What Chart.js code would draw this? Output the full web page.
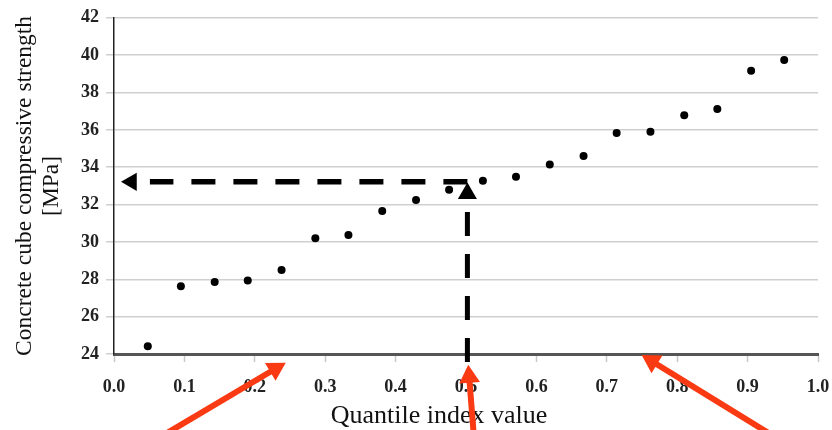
<!DOCTYPE html>
<html>
<head>
<meta charset="utf-8">
<script src="https://cdn.jsdelivr.net/npm/chart.js@4"></script>
<style>
    html, body { margin: 0; padding: 0; background: #fff; }
    #wrap { width: 832px; height: 430px; }
</style>
</head>
<body>
<div id="wrap"><canvas id="qqChart" width="832" height="430"></canvas></div>
<script>
// quantile index (x) and sorted cube strength (y)
const quantiles = [0.048, 0.095, 0.143, 0.190, 0.238, 0.286, 0.333, 0.381, 0.429, 0.476,
                   0.524, 0.571, 0.619, 0.667, 0.714, 0.762, 0.810, 0.857, 0.905, 0.952];
const strengths = [24.42, 27.63, 27.86, 27.93, 28.50, 30.20, 30.37, 31.65, 32.25, 32.80,
                   33.28, 33.49, 34.14, 34.60, 35.83, 35.90, 36.78, 37.12, 39.17, 39.74];

// median read-off (dashed guide lines)
const medianQ = 0.502;
const medianStrength = 33.22;
const guideLeftQ = 0.051;
const guideBottomS = 23.575;
const guideTopS = 32.28;
const leftHeadQ = 0.0249;
const upHeadS = 32.59;

// red pointer arrows below the axis (tail -> centre of head)
const arrowTailQ = [0.0602, 0.5115, 0.9443];
const arrowTailS = [19.43, 19.43, 19.43];
const arrowHeadQ = [0.2293, 0.5045, 0.7640];
const arrowHeadS = [23.21, 22.78, 23.61];

const xTicks = { min: 0, max: 1, step: 0.1 };
const yTicks = { min: 24, max: 42, step: 2 };

const SERIF = "'Liberation Serif', 'Times New Roman', serif";
const RED = '#fa3a12';

// x-axis title drawn by hand so it can sit left of centre like the original
const xTitlePlugin = {
    id: 'xTitle',
    beforeDatasetsDraw(chart) {
        const ctx = chart.ctx;
        ctx.save();
        ctx.font = `26px ${SERIF}`;
        ctx.fillStyle = '#111';
        ctx.textAlign = 'center';
        ctx.textBaseline = 'alphabetic';
        ctx.fillText('Quantile index value', 439, 423);
        ctx.restore();
    }
};

// point elements outside the chart area are skipped by Chart.js,
// so the red heads are drawn here from the same scales
const arrowHeadPlugin = {
    id: 'arrowHeads',
    afterDatasetsDraw(chart) {
        const { ctx, scales: { x, y } } = chart;
        const r = 12;
        ctx.save();
        ctx.fillStyle = RED;
        arrowHeadQ.forEach((q, i) => {
            const cx = x.getPixelForValue(q), cy = y.getPixelForValue(arrowHeadS[i]);
            const tx = x.getPixelForValue(arrowTailQ[i]), ty = y.getPixelForValue(arrowTailS[i]);
            const a = Math.atan2(cy - ty, cx - tx);
            ctx.beginPath();
            for (let k = 0; k < 3; k++) {
                const ang = a + k * 2 * Math.PI / 3;
                const px = cx + Math.cos(ang) * r, py = cy + Math.sin(ang) * r;
                k === 0 ? ctx.moveTo(px, py) : ctx.lineTo(px, py);
            }
            ctx.closePath();
            ctx.fill();
        });
        ctx.restore();
    }
};

const arrowShafts = arrowTailQ.map((q, i) => ({
    type: 'line',
    data: [{ x: q, y: arrowTailS[i] }, { x: arrowHeadQ[i], y: arrowHeadS[i] }],
    borderColor: RED,
    borderWidth: 6,
    pointRadius: 0,
    showLine: true,
    clip: false
}));

const datasets = [
    ...arrowShafts,
    {
        type: 'scatter',
        data: [{ x: leftHeadQ, y: medianStrength }, { x: medianQ, y: upHeadS }],
        pointStyle: 'triangle',
        pointRotation: [-90, 0],
        pointRadius: [10.5, 11],
        backgroundColor: '#000',
        borderWidth: 0,
        clip: false
    },
    {
        type: 'line',
        data: [{ x: medianQ, y: medianStrength }, { x: guideLeftQ, y: medianStrength }],
        borderColor: '#000',
        borderWidth: 5.5,
        borderDash: [24, 18],
        pointRadius: 0,
        showLine: true,
        clip: false
    },
    {
        type: 'line',
        data: [{ x: medianQ, y: guideBottomS }, { x: medianQ, y: guideTopS }],
        borderColor: '#000',
        borderWidth: 5,
        borderDash: [24, 18],
        pointRadius: 0,
        showLine: true,
        clip: false
    },
    {
        type: 'scatter',
        data: quantiles.map((q, i) => ({ x: q, y: strengths[i] })),
        pointRadius: 4,
        backgroundColor: '#000',
        borderWidth: 0
    }
];

new Chart(document.getElementById('qqChart'), {
    type: 'scatter',
    data: { datasets },
    options: {
        responsive: false,
        animation: false,
        devicePixelRatio: 1,
        layout: { padding: { top: 15, right: 14, left: 0, bottom: 0 } },
        plugins: { legend: { display: false }, tooltip: { enabled: false } },
        scales: {
            x: {
                type: 'linear',
                min: xTicks.min,
                max: xTicks.max,
                afterFit: s => {
                    s.height = 76;
                    s.paddingLeft = 0;
                    s.paddingRight = 0;
                },
                ticks: {
                    stepSize: xTicks.step,
                    padding: 15,
                    color: '#222',
                    font: { family: SERIF, size: 18, weight: 'bold' },
                    callback: v => Number(v).toFixed(1)
                },
                grid: {
                    drawOnChartArea: false,
                    tickLength: 8,
                    tickColor: '#c8c8c8',
                    tickWidth: 1.5
                },
                border: { color: '#555', width: 3 }
            },
            y: {
                min: yTicks.min,
                max: yTicks.max,
                afterFit: s => { s.width = 114; },
                ticks: {
                    stepSize: yTicks.step,
                    padding: 7,
                    color: '#222',
                    font: { family: SERIF, size: 18, weight: 'bold' }
                },
                grid: {
                    color: '#cfcfcf',
                    lineWidth: 1.5,
                    tickLength: 8
                },
                border: { color: '#222', width: 1.5 },
                title: {
                    display: true,
                    text: ['Concrete cube compressive strength', '[MPa]'],
                    color: '#111',
                    font: { family: SERIF, size: 23.5, lineHeight: 1.17 },
                    padding: { top: 11, bottom: 0 }
                }
            }
        }
    },
    plugins: [xTitlePlugin, arrowHeadPlugin]
});
</script>
</body>
</html>
